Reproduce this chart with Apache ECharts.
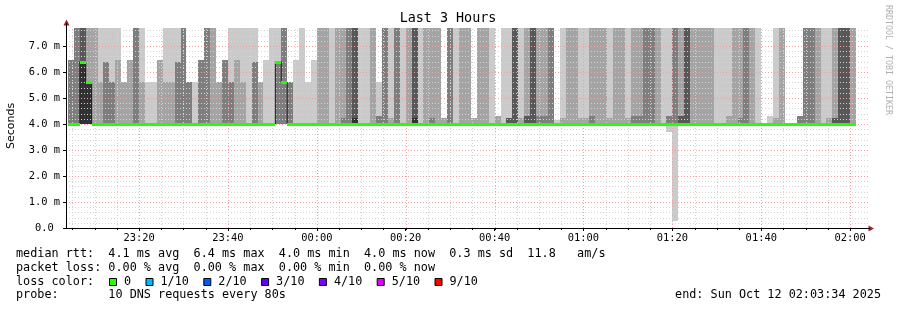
<!DOCTYPE html>
<html><head><meta charset="utf-8">
<script src="https://cdn.jsdelivr.net/npm/echarts@6/dist/echarts.min.js"></script>
<style>html,body{margin:0;padding:0;background:#fff;}#chart{width:897px;height:310px;}</style>
</head><body><div id="chart"></div>
<script>
// ---------------- data ----------------
// time axis: seconds relative to Sun Oct 12 2025 00:00
const viewStartSec = -3386;           // 23:03:34
const viewEndSec = 7414;              // 02:03:34
const stepSec = 80;                   // one smokeping step
const firstStep = -42;                // step k covers [k*80, k*80+80)
const smokeFloorMs = 4.0;             // lowest ping (min rtt)
const T = 9;                          // smoke reaching beyond the graph top
// smoke per step: list of [shade 1..5, upper value ms] stacked from the floor
const smoke = [
  [[3,6.46]],[[3,T]],[[5,6.4],[4,T]],[[5,5.6],[2,T]],[[2,T]],[[2,5.6],[1,T]],[[3,6.4],[1,T]],[[3,5.6],[1,T]],
  [[2,6.46],[1,T]],[[2,5.6]],[[2,6.46]],[[3,T]],[[2,5.6],[1,T]],[[1,5.6]],[[1,5.6]],[[2,6.46]],
  [[2,5.6],[1,T]],[[2,5.6],[1,T]],[[3,6.4],[1,T]],[[3,T]],[[3,5.6]],[[1,5.6]],[[3,6.46]],[[3,T]],
  [[2,T]],[[2,5.6]],[[3,6.46]],[[3,5.6],[1,T]],[[2,6.46],[1,T]],[[2,5.6],[1,T]],[[1,T]],[[3,6.4],[1,T]],
  [[2,5.6]],[[1,6.46]],[[1,T]],[[3,6.4],[1,T]],[[3,T]],[[3,5.6]],[[1,6.46]],[[1,T]],
  [[1,5.6]],[[1,6.46]],
  // k = 0 (00:00)
  [[2,T]],[[2,T]],[[1,T]],[[2,T]],[[3,4.23],[2,T]],[[3,T]],[[5,4.23],[4,T]],[[1,T]],
  [[1,T]],[[2,T]],[[3,4.3],[1,5.6]],[[3,T]],[[2,4.23],[1,T]],[[3,T]],[[1,T]],[[2,T]],
  [[5,4.23],[4,T]],[[1,T]],[[2,T]],[[3,4.23],[2,T]],[[2,T]],[[2,4.23]],[[3,T]],[[1,T]],
  [[2,T]],[[2,T]],[[2,4.23]],[[2,T]],[[2,T]],[[1,T]],[[2,4.3]],[[1,T]],
  [[4,4.23],[1,T]],[[4,T]],[[2,4.23],[1,T]],[[4,4.3],[2,T]],[[4,T]],[[3,4.3],[2,T]],[[3,4.3],[2,T]],[[3,T]],
  [[1,4.15]],[[2,4.23],[1,T]],[[2,T]],[[2,T]],[[2,4.23],[1,T]],[[2,4.23],[1,T]],[[3,4.3],[2,T]],[[2,T]],
  [[2,T]],[[2,4.23],[1,T]],[[2,T]],[[2,T]],[[2,4.23],[1,T]],[[3,4.3],[2,T]],[[3,4.3],[2,T]],[[3,T]],
  [[3,T]],[[2,T]],[[1,T]],[[3,4.3],[1,T]],[[3,T]],[[4,4.3],[2,T]],[[4,T]],[[2,T]],
  [[2,T]],[[2,T]],[[2,T]],[[1,T]],[[1,T]],[[2,4.3],[1,T]],[[2,T]],[[3,4.23],[2,T]],
  [[3,T]],[[2,T]],[[1,T]],[],[[1,4.3]],[[2,4.23],[1,T]],[[2,T]],[],
  [],[[3,4.3]],[[3,T]],[[3,T]],[[2,T]],[[1,T]],[[2,4.23],[1,T]],[[4,4.23],[2,T]],
  [[4,T]],[[4,T]],[[2,T]]
];
// steps whose fastest ping fell below the floor
const belowSteps = [59, 60];
const belowMs = [3.70, 0.27];
// median rtt per step (ms)
const medianMs = [
  4.0,4.0,6.4,5.6,4.0,4.0,4.0,4.0,4.0,4.0,4.0,4.0,4.0,4.0,4.0,4.0,4.0,4.0,4.0,4.0,
  4.0,4.0,4.0,4.0,4.0,4.0,4.0,4.0,4.0,4.0,4.0,4.0,4.0,4.0,4.0,6.4,5.6,4.0,4.0,4.0,
  4.0,4.0,4.0,4.0,4.0,4.0,4.0,4.0,4.0,4.0,4.0,4.0,4.0,4.0,4.0,4.0,4.0,4.0,4.0,4.0,
  4.0,4.0,4.0,4.0,4.0,4.0,4.0,4.0,4.0,4.0,4.0,4.0,4.0,4.0,4.0,4.0,4.0,4.0,4.0,4.0,
  4.0,4.0,4.0,4.0,4.0,4.0,4.0,4.0,4.0,4.0,4.0,4.0,4.0,4.0,4.0,4.0,4.0,4.0,4.0,4.0,
  4.0,4.0,4.0,4.0,4.0,4.0,4.0,4.0,4.0,4.0,4.0,4.0,4.0,4.0,4.0,4.0,4.0,4.0,4.0,4.0,
  4.0,4.0,4.0,4.0,4.0,4.0,4.0,4.0,4.0,4.0,4.0,4.0,4.0
];
const xTickMinutes = [-40,-20,0,20,40,60,80,100,120];
const xTickLabels = ['23:20','23:40','00:00','00:20','00:40','01:00','01:20','01:40','02:00'];
const yTicksMs = [0,1,2,3,4,5,6,7];
const yTopMs = 200/26;
const titleText = 'Last 3 Hours';
const rttLine = 'median rtt:  4.1 ms avg  6.4 ms max  4.0 ms min  4.0 ms now  0.3 ms sd  11.8   am/s';
const lossLine = 'packet loss: 0.00 % avg  0.00 % max  0.00 % min  0.00 % now';
const lossLabels = ['0','1/10','2/10','3/10','4/10','5/10','9/10'];
const lossColors = ['#26ff00','#00b8ff','#0059ff','#5e00ff','#7e00ff','#dd00ff','#ff0000'];
const probeLine = 'probe:       10 DNS requests every 80s';
const endLine = 'end: Sun Oct 12 02:03:34 2025';

// ---------------- chart ----------------
const MONO = '"DejaVu Sans Mono", monospace';
const shadeColors = ['#cacaca','#a4a4a4','#7e7e7e','#585858','#323232'];
const segs = [];
smoke.forEach((col, i) => {
  const k = firstStep + i, t0 = k*stepSec, t1 = t0 + stepSec;
  let lo = smokeFloorMs;
  col.forEach(([shade, hi]) => { segs.push([t0, t1, lo, hi, shade]); lo = hi; });
});
belowSteps.forEach((k, j) => segs.push([k*stepSec, k*stepSec+stepSec, belowMs[j], smokeFloorMs, 1]));

const medData = medianMs.map((m, i) => { const t0 = (firstStep+i)*stepSec; return [t0, t0+stepSec, m]; });
const medLine = medianMs.map((m, i) => [(firstStep+i)*stepSec, m]);
medLine.push([(firstStep+medianMs.length)*stepSec, medianMs[medianMs.length-1]]);

function snapRect(api, params, t0, t1, lo, hi) {
  const cs = params.coordSys;
  const a = api.coord([t0, hi]), b = api.coord([t1, lo]);
  let x0 = Math.round(a[0]), x1 = Math.round(b[0]);
  let y0 = Math.round(a[1]), y1 = Math.round(b[1]);
  y0 = Math.max(y0, Math.round(cs.y)); y1 = Math.min(y1, Math.round(cs.y + cs.height));
  x0 = Math.max(x0, Math.round(cs.x)); x1 = Math.min(x1, Math.round(cs.x + cs.width));
  return {x: x0, y: y0, width: Math.max(0, x1-x0), height: Math.max(0, y1-y0)};
}

const chart = echarts.init(document.getElementById('chart'), null, {renderer: 'canvas'});

let lx = 109;
const lossGraphics = [];
lossLabels.forEach((lab, i) => {
  lossGraphics.push({type:'rect', shape:{x: lx+0.5, y: 278.5, width: 7, height: 7}, style:{fill: lossColors[i], stroke:'#000', lineWidth:1}});
  lossGraphics.push({type:'text', x: lx+15, y: 282, style:{text: lab, font: '11.8px ' + MONO, fill:'#000', verticalAlign:'middle'}});
  lx = lx + 15 + lab.length*7.1 + 14.4;
});

const option = {
  animation: false,
  backgroundColor: '#fff',
  grid: {left: 66, right: 31, top: 28, bottom: 82, containLabel: false},
  xAxis: {
    type: 'value', min: viewStartSec, max: viewEndSec,
    axisLine: {show: false, onZero: false},
    axisTick: {show: true, customValues: xTickMinutes.map(m => m*60), length: 3, lineStyle: {color:'#000'}},
    axisLabel: {customValues: xTickMinutes.map(m => m*60), margin: 5, color: '#000',
      fontFamily: MONO, fontSize: 10.4,
      formatter: v => xTickLabels[xTickMinutes.indexOf(Math.round(v/60))] || ''},
    splitLine: {show: false}
  },
  yAxis: {
    type: 'value', min: 0, max: yTopMs, interval: 1,
    axisLine: {show: false, onZero: false},
    axisTick: {show: true, customValues: yTicksMs, length: 3, lineStyle: {color:'#000'}},
    axisLabel: {customValues: yTicksMs, margin: 6, color: '#000', fontFamily: MONO, fontSize: 10.4,
      formatter: v => v === 0 ? '0.0 ' : v.toFixed(1) + ' m'},
    splitLine: {show: false}
  },
  series: [
    { // smoke
      type: 'custom', z: 1, data: segs, silent: true,
      renderItem: (params, api) => {
        const r = snapRect(api, params, api.value(0), api.value(1), api.value(2), api.value(3));
        return {type: 'rect', shape: r, style: {fill: shadeColors[api.value(4)-1]}};
      }
    },
    { // dotted grid, drawn over the smoke, plus the axis lines
      type: 'custom', z: 2, data: [[0]], silent: true,
      renderItem: (params, api) => {
        const cs = params.coordSys, children = [];
        const yb = cs.y + cs.height, xr = cs.x + cs.width + 2;
        for (let m = -55; m <= 120; m += 5) {
          const x = Math.round(api.coord([m*60, 0])[0]) + 0.5;
          const major = m % 20 === 0;
          children.push({type:'line', shape:{x1:x, y1:yb, x2:x, y2:cs.y},
            style:{stroke: major ? '#f0a0a0' : '#d4d4d4', lineWidth:1, lineDash:[1,2]}});
          children.push({type:'line', shape:{x1:x, y1:yb, x2:x, y2:yb+2}, style:{stroke:'#000', lineWidth:1}});
        }
        for (let j = 1; j <= 38; j++) {
          const v = j*0.2;
          const y = Math.round(api.coord([0, v])[1]) + 0.5;
          const major = j % 5 === 0;
          children.push({type:'line', shape:{x1:cs.x, y1:y, x2:xr, y2:y},
            style:{stroke: major ? '#f0a0a0' : '#d4d4d4', lineWidth:1, lineDash:[1,2]}});
        }
        const o = api.coord([viewStartSec, 0]);
        const ox = Math.round(o[0]) + 0.5, oy = Math.round(o[1]) + 0.5;
        children.push({type:'line', shape:{x1:ox, y1:oy, x2:ox, y2:cs.y-5}, style:{stroke:'#000', lineWidth:1}});
        children.push({type:'line', shape:{x1:ox-3, y1:oy, x2:cs.x+cs.width+4, y2:oy}, style:{stroke:'#000', lineWidth:1}});
        return {type:'group', children};
      }
    },
    { // LINE1 median
      type: 'line', z: 3, data: medLine, step: 'end', symbol: 'none', silent: true,
      lineStyle: {color: '#202020', width: 1}
    },
    { // loss-coloured median band
      type: 'custom', z: 4, data: medData, silent: true,
      renderItem: (params, api) => {
        const a = api.coord([api.value(0), api.value(2)]), b = api.coord([api.value(1), api.value(2)]);
        const y = Math.round(a[1]);
        return {type:'rect', shape:{x: Math.round(a[0]), y: y-1, width: Math.round(b[0])-Math.round(a[0]), height: 3},
          style:{fill: lossColors[0]}};
      }
    }
  ],
  graphic: [
    {type:'text', x: 448, y: 19, style:{text: titleText, font: '13.4px ' + MONO, fill:'#000', align:'center', verticalAlign:'middle'}},
    {type:'text', x: 11, y: 126, rotation: Math.PI/2, style:{text: 'Seconds', font: '11px "DejaVu Sans", sans-serif', fill:'#000', align:'center', verticalAlign:'middle'}},
    {type:'text', x: 888, y: 60, rotation: -Math.PI/2, style:{text: 'RRDTOOL / TOBI OETIKER', font: '8.3px ' + MONO, fill:'#b0b0b0', align:'center', verticalAlign:'middle'}},
    {type:'polygon', shape:{points:[[66.5,19.5],[63.5,25.5],[69.5,25.5]]}, style:{fill:'#a02020'}},
    {type:'polygon', shape:{points:[[874,228.5],[868.5,225.5],[868.5,231.5]]}, style:{fill:'#a02020'}},
    {type:'text', x: 16, y: 254.3, style:{text: rttLine, font: '11.8px ' + MONO, fill:'#000', verticalAlign:'middle'}},
    {type:'text', x: 16, y: 267.7, style:{text: lossLine, font: '11.8px ' + MONO, fill:'#000', verticalAlign:'middle'}},
    {type:'text', x: 16, y: 281.5, style:{text: 'loss color:', font: '11.8px ' + MONO, fill:'#000', verticalAlign:'middle'}},
    ...lossGraphics,
    {type:'text', x: 16, y: 294.5, style:{text: probeLine, font: '11.8px ' + MONO, fill:'#000', verticalAlign:'middle'}},
    {type:'text', x: 881, y: 294.5, style:{text: endLine, font: '11.8px ' + MONO, fill:'#000', align:'right', verticalAlign:'middle'}}
  ]
};
chart.setOption(option);
</script></body></html>
